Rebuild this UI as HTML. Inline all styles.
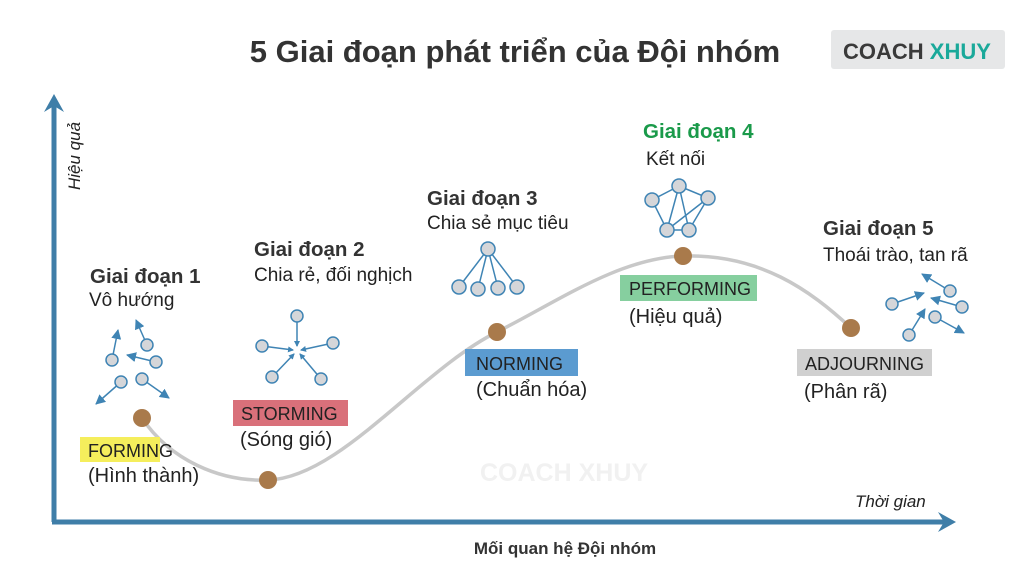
<!DOCTYPE html>
<html><head><meta charset="utf-8"><style>
body{margin:0;width:1024px;height:576px;background:#fff;overflow:hidden;font-family:"Liberation Sans",sans-serif}
svg{position:absolute;left:0;top:0}
</style></head><body>
<svg width="1024" height="576" viewBox="0 0 1024 576">
<defs>
<marker id="a" markerWidth="6" markerHeight="6" refX="5" refY="3" orient="auto" markerUnits="userSpaceOnUse" viewBox="0 0 6 6"><path d="M0,0L6,3L0,6z" fill="#3f84b4"/></marker>
<marker id="s" markerWidth="10" markerHeight="10" refX="9" refY="5" orient="auto" markerUnits="userSpaceOnUse"><path d="M0,0L10,5L0,10z" fill="#3f84b4"/></marker>
</defs>
<text x="515" y="62" text-anchor="middle" font-size="31" font-weight="bold" fill="#333">5 Giai đoạn phát triển của Đội nhóm</text>
<rect x="831" y="30" width="174" height="39" rx="3" fill="#e6e7e8"/>
<text x="843" y="59" font-size="22" font-weight="bold" fill="#3a3a3a">COACH <tspan fill="#1aa99a">XHUY</tspan></text>
<text x="480" y="481" font-size="25" font-weight="bold" fill="#f1f1f1">COACH XHUY</text>
<line x1="54" y1="522" x2="54" y2="104" stroke="#3f7ea8" stroke-width="5"/>
<path d="M44,112L54,94L64,112L54,106z" fill="#3f7ea8"/>
<line x1="52" y1="522" x2="944" y2="522" stroke="#3f7ea8" stroke-width="5"/>
<path d="M938,512L956,522L938,532L944,522z" fill="#3f7ea8"/>
<text transform="translate(80,190) rotate(-90)" font-size="17" font-style="italic" fill="#222">Hiệu quả</text>
<text x="855" y="507" font-size="17" font-style="italic" fill="#222">Thời gian</text>
<text x="565" y="554" text-anchor="middle" font-size="17" font-weight="bold" fill="#333">Mối quan hệ Đội nhóm</text>
<path d="M142,418 C170,460 220,482 268,480 C340,478 420,370 497,332 C560,300 620,258 683,256 C760,254 810,290 851,328" fill="none" stroke="#c8c8c8" stroke-width="3.5"/>
<g fill="#a97a4b"><circle cx="142" cy="418" r="9"/><circle cx="268" cy="480" r="9"/><circle cx="497" cy="332" r="9"/><circle cx="683" cy="256" r="9"/><circle cx="851" cy="328" r="9"/></g>
<g font-size="18" fill="#222">
<rect x="80" y="437" width="80" height="25" fill="#f5ee5c"/><text x="88" y="457">FORMING</text>
<rect x="233" y="400" width="115" height="26" fill="#d9707a"/><text x="241" y="420">STORMING</text>
<rect x="465" y="349" width="113" height="27" fill="#5b9bd0"/><text x="476" y="370">NORMING</text>
<rect x="620" y="275" width="137" height="26" fill="#86cf9f"/><text x="629" y="295">PERFORMING</text>
<rect x="797" y="349" width="135" height="27" fill="#d0d0d0"/><text x="805" y="370">ADJOURNING</text>
</g>
<g font-size="20" fill="#222">
<text x="88" y="482">(Hình thành)</text>
<text x="240" y="446">(Sóng gió)</text>
<text x="476" y="396">(Chuẩn hóa)</text>
<text x="629" y="323">(Hiệu quả)</text>
<text x="804" y="398">(Phân rã)</text>
</g>
<g font-size="19" fill="#222">
<text x="90" y="283" font-weight="bold" font-size="20.5" fill="#333">Giai đoạn 1</text><text x="89" y="306">Vô hướng</text>
<text x="254" y="256" font-weight="bold" font-size="20.5" fill="#333">Giai đoạn 2</text><text x="254" y="281">Chia rẻ, đối nghịch</text>
<text x="427" y="205" font-weight="bold" font-size="20.5" fill="#333">Giai đoạn 3</text><text x="427" y="229">Chia sẻ mục tiêu</text>
<text x="643" y="138" font-weight="bold" font-size="20.5" fill="#1a9a4a">Giai đoạn 4</text><text x="646" y="165">Kết nối</text>
<text x="823" y="235" font-weight="bold" font-size="20.5" fill="#333">Giai đoạn 5</text><text x="823" y="261">Thoái trào, tan rã</text>
</g>
<g stroke="#3f84b4" stroke-width="1.5" fill="none">
<line x1="147" y1="345" x2="136" y2="320" marker-end="url(#s)"/>
<line x1="156" y1="362" x2="127" y2="355" marker-end="url(#s)"/>
<line x1="112" y1="360" x2="118" y2="330" marker-end="url(#s)"/>
<line x1="121" y1="382" x2="96" y2="404" marker-end="url(#s)"/>
<line x1="142" y1="379" x2="169" y2="398" marker-end="url(#s)"/>
<line x1="297" y1="316" x2="297" y2="346" marker-end="url(#a)"/>
<line x1="262" y1="346" x2="293" y2="350" marker-end="url(#a)"/>
<line x1="333" y1="343" x2="301" y2="350" marker-end="url(#a)"/>
<line x1="272" y1="377" x2="294" y2="354" marker-end="url(#a)"/>
<line x1="321" y1="379" x2="300" y2="354" marker-end="url(#a)"/>
<line x1="488" y1="249" x2="459" y2="287"/><line x1="488" y1="249" x2="478" y2="289"/><line x1="488" y1="249" x2="498" y2="288"/><line x1="488" y1="249" x2="517" y2="287"/>
<path d="M679,186L652,200L667,230L689,230L708,198z M679,186L667,230 M679,186L689,230 M667,230L708,198"/>
<line x1="950" y1="291" x2="922" y2="274" marker-end="url(#s)"/>
<line x1="962" y1="307" x2="931" y2="298" marker-end="url(#s)"/>
<line x1="935" y1="317" x2="964" y2="333" marker-end="url(#s)"/>
<line x1="892" y1="304" x2="924" y2="293" marker-end="url(#s)"/>
<line x1="909" y1="335" x2="925" y2="309" marker-end="url(#s)"/>
</g>
<g fill="#d5d6d9" stroke="#3f84b4" stroke-width="1.5">
<circle cx="147" cy="345" r="6"/><circle cx="156" cy="362" r="6"/><circle cx="112" cy="360" r="6"/><circle cx="121" cy="382" r="6"/><circle cx="142" cy="379" r="6"/>
<circle cx="297" cy="316" r="6"/><circle cx="262" cy="346" r="6"/><circle cx="333" cy="343" r="6"/><circle cx="272" cy="377" r="6"/><circle cx="321" cy="379" r="6"/>
<circle cx="488" cy="249" r="7"/><circle cx="459" cy="287" r="7"/><circle cx="478" cy="289" r="7"/><circle cx="498" cy="288" r="7"/><circle cx="517" cy="287" r="7"/>
<circle cx="679" cy="186" r="7"/><circle cx="652" cy="200" r="7"/><circle cx="708" cy="198" r="7"/><circle cx="667" cy="230" r="7"/><circle cx="689" cy="230" r="7"/>
<circle cx="950" cy="291" r="6"/><circle cx="962" cy="307" r="6"/><circle cx="935" cy="317" r="6"/><circle cx="892" cy="304" r="6"/><circle cx="909" cy="335" r="6"/>
</g>
</svg>
</body></html>
